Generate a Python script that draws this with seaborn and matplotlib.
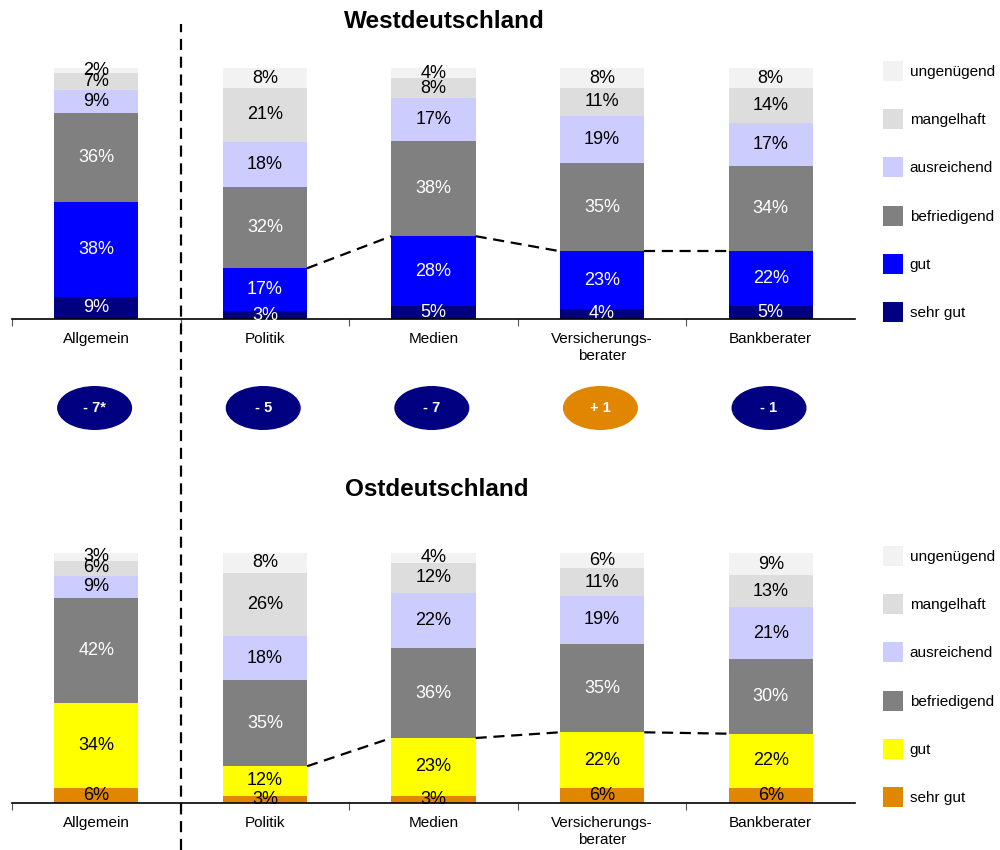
import numpy as np
import matplotlib
matplotlib.use('Agg')
import matplotlib.pyplot as plt
import seaborn as sns
from matplotlib.patches import Patch, Ellipse
from matplotlib.lines import Line2D

# Daten: Noten je Kategorie, West und Ost
kategorien = ['Allgemein', 'Politik', 'Medien', 'Versicherungs-\nberater', 'Bankberater']
noten = ['sehr gut', 'gut', 'befriedigend', 'ausreichend', 'mangelhaft', 'ungenügend']

west_sehr_gut = [9, 3, 5, 4, 5]
west_gut = [38, 17, 28, 23, 22]
west_befriedigend = [36, 32, 38, 35, 34]
west_ausreichend = [9, 18, 17, 19, 17]
west_mangelhaft = [7, 21, 8, 11, 14]
west_ungenuegend = [2, 8, 4, 8, 8]

ost_sehr_gut = [6, 3, 3, 6, 6]
ost_gut = [34, 12, 23, 22, 22]
ost_befriedigend = [42, 35, 36, 35, 30]
ost_ausreichend = [9, 18, 22, 19, 21]
ost_mangelhaft = [6, 26, 12, 11, 13]
ost_ungenuegend = [3, 8, 4, 6, 9]

veraenderung = ['- 7*', '- 5', '- 7', '+ 1', '- 1']
veraenderung_positiv = [False, False, False, True, False]

farben_west = ['#000080', '#0000FF', '#808080', '#CCCCFF', '#DDDDDD', '#F2F2F2']
farben_ost = ['#E08600', '#FFFF00', '#808080', '#CCCCFF', '#DDDDDD', '#F2F2F2']
textfarben_west = ['white', 'white', 'white', 'black', 'black', 'black']
textfarben_ost = ['black', 'black', 'white', 'black', 'black', 'black']

sns.set_style('white')
plt.rcParams['font.family'] = ['Liberation Sans', 'DejaVu Sans']
plt.rcParams['text.color'] = 'black'
plt.rcParams['xtick.color'] = 'black'
plt.rcParams['xtick.labelcolor'] = 'black'

fig = plt.figure(figsize=(10, 8.5), dpi=100)
ax_west = fig.add_axes([0.012, 1 - 319 / 850, 0.843, 251 / 850])
ax_ost = fig.add_axes([0.012, 1 - 803 / 850, 0.843, 250 / 850])
ax_mitte = fig.add_axes([0.012, 1 - 438 / 850, 0.843, 60 / 850])


def gestapelt(ax, serien, farben, textfarben, legend_top):
    werte = np.array(serien)
    # Balken auf 100 % gebracht (Rundungsdifferenzen), Beschriftung bleibt
    anteile = werte / werte.sum(axis=0) * 100
    kum = np.cumsum(anteile, axis=0)
    # von oben nach unten zeichnen, damit die kleineren Summen drüber liegen
    for k in range(len(serien) - 1, -1, -1):
        sns.barplot(x=kategorien, y=kum[k], color=farben[k], width=0.5,
                    saturation=1, linewidth=0, errorbar=None, ax=ax,
                    clip_on=False, zorder=2)
    for k in range(len(serien)):
        for i in range(len(kategorien)):
            ax.text(i, kum[k, i] - anteile[k, i] / 2, f'{werte[k, i]}%',
                    ha='center', va='center', fontsize=13,
                    color=textfarben[k], zorder=5)
    # gestrichelte Verbindung der Oberkante "gut" (ohne Allgemein)
    oben = kum[1]
    for i in range(1, len(kategorien) - 1):
        ax.plot([i + 0.25, i + 0.75], [oben[i], oben[i + 1]], color='black',
                lw=1.6, ls=(0, (5, 3)), zorder=4)
    ax.set_xlim(-0.5, 4.5)
    ax.set_ylim(0, 100)
    ax.set_yticks([])
    ax.set_ylabel('')
    for s in ['top', 'right', 'left']:
        ax.spines[s].set_visible(False)
    ax.spines['bottom'].set_color('black')
    ax.spines['bottom'].set_linewidth(1.2)
    ax.set_xticks([-0.5, 0.5, 1.5, 2.5, 3.5])
    ax.set_xticklabels([])
    ax.set_xticks(range(len(kategorien)), minor=True)
    ax.set_xticklabels(kategorien, minor=True, fontsize=11, linespacing=1.25)
    ax.tick_params(axis='x', which='major', direction='out', length=5,
                   width=0.8, color='#555555', bottom=True)
    ax.tick_params(axis='x', which='minor', length=0, pad=9.5)

    handles = [Patch(facecolor=farben[k], edgecolor='none', label=noten[k])
               for k in range(len(noten) - 1, -1, -1)]
    fig.legend(handles=handles, loc='upper left',
               bbox_to_anchor=(0.883, 1 - legend_top / 850),
               bbox_transform=fig.transFigure, frameon=False, fontsize=11,
               handlelength=1.29, handleheight=1.62, handletextpad=0.45,
               labelspacing=1.86, borderpad=0, borderaxespad=0)


gestapelt(ax_west, [west_sehr_gut, west_gut, west_befriedigend, west_ausreichend,
                    west_mangelhaft, west_ungenuegend],
          farben_west, textfarben_west, 61)
gestapelt(ax_ost, [ost_sehr_gut, ost_gut, ost_befriedigend, ost_ausreichend,
                   ost_mangelhaft, ost_ungenuegend],
          farben_ost, textfarben_ost, 546)

# Ovale mit der Veränderung
ax_mitte.set_xlim(-0.5, 4.5)
ax_mitte.set_ylim(0, 1)
ax_mitte.axis('off')
for i, (txt, pos) in enumerate(zip(veraenderung, veraenderung_positiv)):
    farbe = '#E08600' if pos else '#000080'
    ax_mitte.add_patch(Ellipse((i - 0.01, 0.5), 0.445, 44 / 60, facecolor=farbe,
                               edgecolor='none'))
    ax_mitte.text(i - 0.01, 0.5, txt, ha='center', va='center', color='white',
                  fontsize=10.5, fontweight='bold')

fig.text(0.444, 1 - 22 / 850, 'Westdeutschland', ha='center', va='center',
         fontsize=17.5, fontweight='bold')
fig.text(0.437, 1 - 490 / 850, 'Ostdeutschland', ha='center', va='center',
         fontsize=17.5, fontweight='bold')

# senkrechte Trennlinie nach "Allgemein"
fig.add_artist(Line2D([0.181, 0.181], [0, 1 - 24 / 850], color='black', lw=1.6,
                      ls=(0, (5, 3)), transform=fig.transFigure, zorder=10))

fig.savefig('out.png', dpi=100)
